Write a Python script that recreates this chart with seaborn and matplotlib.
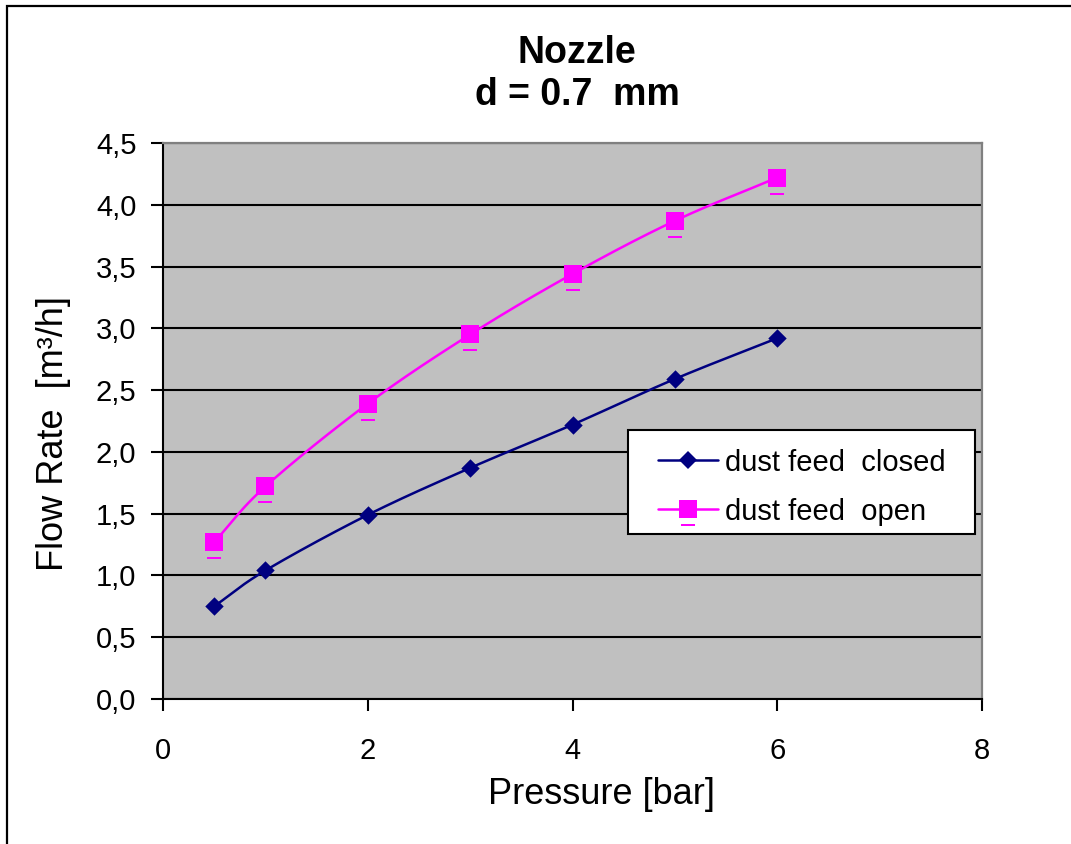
import matplotlib
matplotlib.use('Agg')
import matplotlib.pyplot as plt
import numpy as np
import pandas as pd
import seaborn as sns
from matplotlib.lines import Line2D
from matplotlib.markers import MarkerStyle
from matplotlib.path import Path
from matplotlib.patches import Rectangle

# data
pressure = [0.5, 1, 2, 3, 4, 5, 6]
flow_closed = [0.75, 1.04, 1.49, 1.87, 2.22, 2.59, 2.92]
flow_open = [1.27, 1.72, 2.39, 2.95, 3.44, 3.87, 4.22]
series_names = ['dust feed  closed', 'dust feed  open']
x_ticks = [0, 2, 4, 6, 8]
y_ticks = [0.0, 0.5, 1.0, 1.5, 2.0, 2.5, 3.0, 3.5, 4.0, 4.5]
y_tick_labels = ['0,0', '0,5', '1,0', '1,5', '2,0', '2,5', '3,0', '3,5', '4,0', '4,5']

sns.set_style('white')
plt.rcParams['font.family'] = ['Liberation Sans', 'DejaVu Sans']
plt.rcParams['text.color'] = 'black'
plt.rcParams['axes.labelcolor'] = 'black'
plt.rcParams['xtick.color'] = 'black'
plt.rcParams['ytick.color'] = 'black'

NAVY = '#000080'
MAGENTA = '#FF00FF'


def smooth(x, y, n=24):
    # catmull-rom, roughly what excel does for "smoothed line"
    pts = np.column_stack([x, y]).astype(float)
    p = np.vstack([2 * pts[0] - pts[1], pts, 2 * pts[-1] - pts[-2]])
    t = np.linspace(0, 1, n, endpoint=False)[:, None]
    out = []
    for i in range(1, len(p) - 2):
        p0, p1, p2, p3 = p[i - 1], p[i], p[i + 1], p[i + 2]
        seg = 0.5 * (2 * p1 + (-p0 + p2) * t + (2 * p0 - 5 * p1 + 4 * p2 - p3) * t ** 2
                     + (-p0 + 3 * p1 - 3 * p2 + p3) * t ** 3)
        out.append(seg)
    out.append(pts[-1][None])
    return np.vstack(out)


# square with the little bar underneath (as in the excel marker)
sq = Path.unit_rectangle().transformed(
    matplotlib.transforms.Affine2D().translate(-0.5, -0.5))
bar = Path.unit_rectangle().transformed(
    matplotlib.transforms.Affine2D().translate(-0.5, -0.5).scale(0.78, 0.11).translate(0, -0.885))
sq_marker = MarkerStyle(Path.make_compound_path(sq, bar))

pts = pd.DataFrame({'p': pressure, 'closed': flow_closed, 'open': flow_open})
c_closed = smooth(pressure, flow_closed)
c_open = smooth(pressure, flow_open)
curves = pd.concat([
    pd.DataFrame({'x': c_closed[:, 0], 'y': c_closed[:, 1], 's': 'closed'}),
    pd.DataFrame({'x': c_open[:, 0], 'y': c_open[:, 1], 's': 'open'}),
])

fig = plt.figure(figsize=(10.71, 8.44), dpi=100)
ax = fig.add_axes([0.1522, 0.1718, 0.7647, 0.6588])
ax.set_facecolor('#C0C0C0')

sns.lineplot(data=curves, x='x', y='y', hue='s', palette={'closed': NAVY, 'open': MAGENTA},
             sort=False, estimator=None, lw=1.8, legend=False, ax=ax, zorder=3)
sns.scatterplot(data=pts, x='p', y='closed', marker='D', s=88, color=NAVY,
                linewidth=0, ax=ax, zorder=4)
sns.scatterplot(data=pts, x='p', y='open', marker=sq_marker, s=24.4 ** 2, color=MAGENTA,
                linewidth=0, ax=ax, zorder=4)

ax.set_xlim(0, 8)
ax.set_ylim(0, 4.5)
ax.set_xticks(x_ticks)
ax.set_xticklabels([str(v) for v in x_ticks])
ax.set_yticks(y_ticks)
ax.set_yticklabels(y_tick_labels)
ax.yaxis.grid(True, color='black', lw=1.5)
ax.xaxis.grid(False)
ax.tick_params(axis='both', direction='out', length=8.6, width=1.5, color='black',
               labelcolor='black', labelsize=21, left=True, bottom=True)
ax.tick_params(axis='x', pad=18.5)
ax.tick_params(axis='y', pad=10.5)

for s in ['left', 'bottom']:
    ax.spines[s].set_color('black')
    ax.spines[s].set_linewidth(1.5)
for s in ['top', 'right']:
    ax.spines[s].set_color('#808080')
    ax.spines[s].set_linewidth(1.6)

ax.set_xlabel('Pressure [bar]', fontsize=26, color='black')
ax.set_ylabel('Flow Rate  [m³/h]', fontsize=26, color='black')
ax.xaxis.set_label_coords(0.536, -0.141)
ax.yaxis.set_label_coords(-0.112, 0.478)

fig.text(577 / 1071, 1 - 63 / 844, 'Nozzle', ha='center', va='baseline',
         fontsize=27, fontweight='bold', color='black')
fig.text(577 / 1071, 1 - 105 / 844, 'd = 0.7  mm', ha='center', va='baseline',
         fontsize=27, fontweight='bold', color='black')

# legend box
ax.add_patch(Rectangle((0.5678, 0.2968), 0.4237, 0.187, transform=ax.transAxes,
                       facecolor='white', edgecolor='black', lw=1.5, zorder=5))
handles = [
    Line2D([], [], color=NAVY, lw=1.8, marker='D', ms=9.4, mew=0),
    Line2D([], [], color=MAGENTA, lw=1.8, marker=sq_marker, ms=24.4, mew=0),
]
leg = ax.legend(handles, series_names, loc='center', bbox_to_anchor=(0.780, 0.381),
                frameon=False, fontsize=21, handlelength=2.07, handletextpad=0.24,
                labelspacing=0.72, borderpad=0, borderaxespad=0)
for t in leg.get_texts():
    t.set_color('black')
leg.set_zorder(6)

# outer chart border (the right and bottom edges are cut off in the original)
fig.add_artist(Rectangle((7 / 1071, -0.1), 1.2, 1.1 - 6.5 / 844, transform=fig.transFigure,
                         fill=False, edgecolor='black', lw=1.6, clip_on=False))

fig.savefig('out.png', dpi=100)
